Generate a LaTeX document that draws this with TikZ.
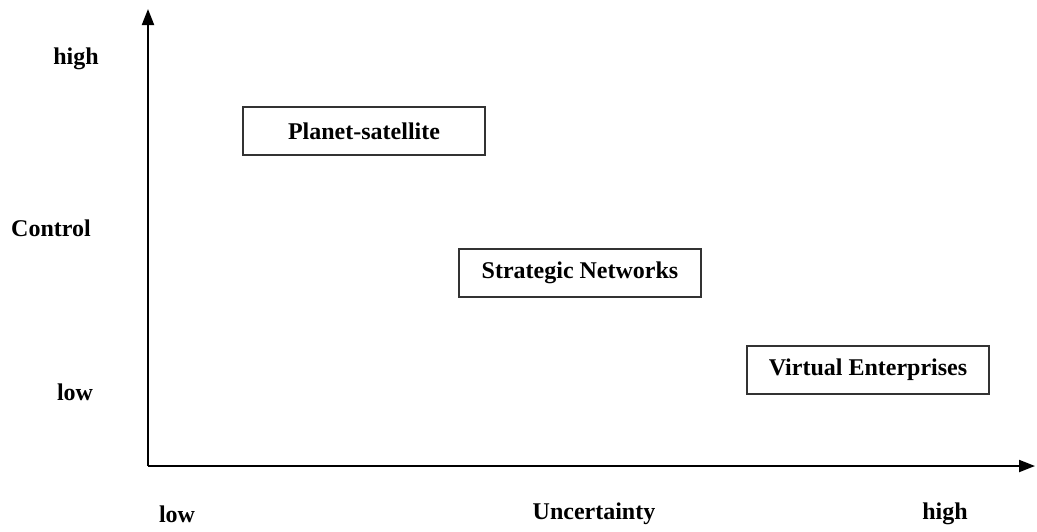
\documentclass[tikz,border=0pt]{standalone}
\usepackage{fontspec}
\setmainfont{Liberation Serif}
\usetikzlibrary{arrows.meta}
\begin{document}
\begin{tikzpicture}[x=1pt,y=-1pt,
  lbl/.style={font=\fontsize{24}{28}\selectfont\bfseries, inner sep=0pt},
  catbox/.style={draw=black!80, line width=1.5pt, minimum width=242pt, minimum height=48pt,
    font=\fontsize{24}{28}\selectfont\bfseries, inner sep=0pt},
  axis/.style={line width=2pt, -{Triangle[length=16pt,width=12pt]}}]
\useasboundingbox (0,0) rectangle (1037,531);
% axes
\coordinate (origin) at (148,466);
\coordinate (ytip) at (148,9);
\coordinate (xtip) at (1035,466);
\draw[axis] (origin) -- (ytip);
\draw[axis] (origin) -- (xtip);
% axis labels
\node[lbl] (yhigh) at (76,59) {high};
\node[lbl] (ctrl) at (51,228) {Control};
\node[lbl] (ylow) at (75,392) {low};
\node[lbl] (xlow) at (177,514) {low};
\node[lbl] (unc) at (594,514) {Uncertainty};
\node[lbl] (xhigh) at (945,514) {high};
% network types
\node[catbox] (ps) at (364,131) {Planet-satellite};
\node[catbox] (sn) at (580,273) {Strategic Networks};
\node[catbox] (ve) at (868,370) {Virtual Enterprises};
\end{tikzpicture}
\end{document}
